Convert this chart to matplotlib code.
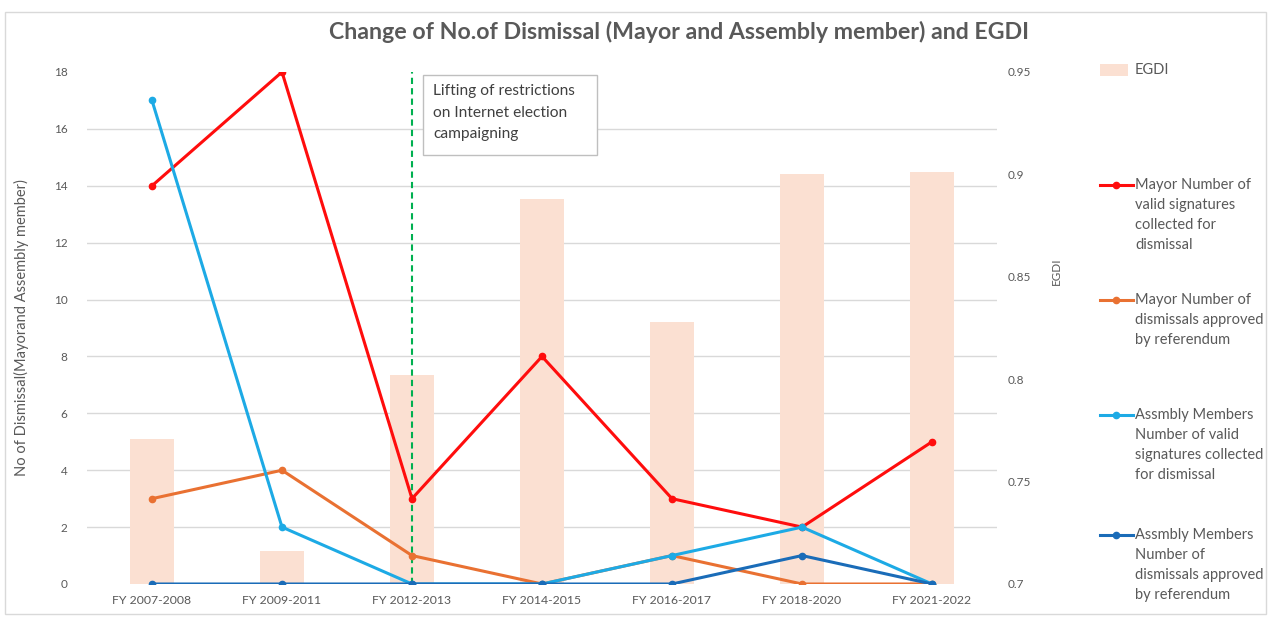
import matplotlib.pyplot as plt
from matplotlib.lines import Line2D
from matplotlib.patches import Rectangle

plt.rcParams['font.family'] = ['Lato', 'DejaVu Sans']

# fiscal-year groups on the x axis
periods = ["FY 2007-2008", "FY 2009-2011", "FY 2012-2013", "FY 2014-2015",
           "FY 2016-2017", "FY 2018-2020", "FY 2021-2022"]

# EGDI score (secondary axis, bars)
egdi = [0.771, 0.716, 0.802, 0.888, 0.828, 0.900, 0.901]

# dismissal counts (primary axis, lines)
mayor_signatures = [14, 18, 3, 8, 3, 2, 5]
mayor_approved = [3, 4, 1, 0, 1, 0, 0]
assembly_signatures = [17, 2, 0, 0, 1, 2, 0]
assembly_approved = [0, 0, 0, 0, 0, 1, 0]

labels = ["Mayor Number of\nvalid signatures\ncollected for\ndismissal",
          "Mayor Number of\ndismissals approved\nby referendum",
          "Assmbly Members\nNumber of valid\nsignatures collected\nfor dismissal",
          "Assmbly Members\nNumber of\ndismissals approved\nby referendum"]
colors = ["#FF0D0D", "#E97132", "#1DAAE5", "#1A6CB8"]
bar_color = "#FBE0D2"
txt = "#595959"

W, H = 1271, 623
fig = plt.figure(figsize=(W / 100, H / 100), dpi=100)

def fx(px):
    return px / W

def fy(py):
    return 1 - py / H

# chart frame
fig.patches.append(Rectangle((fx(5), fy(614)), fx(1261), (614 - 12) / H,
                             transform=fig.transFigure, fill=False,
                             edgecolor="#D9D9D9", linewidth=1))

pos = [fx(87), fy(584), fx(997 - 87), (584 - 72) / H]
ax2 = fig.add_axes(pos)  # bars, EGDI scale
ax = fig.add_axes(pos, sharex=ax2)  # lines, counts
ax.set_zorder(ax2.get_zorder() + 1)
ax.patch.set_visible(False)

x = list(range(len(periods)))
ymax = 18
e_lo, e_hi = 0.7, 0.95

# EGDI bars
ax2.bar(x, [v - e_lo for v in egdi], bottom=e_lo, width=0.34, color=bar_color, zorder=2)
ax2.set_ylim(e_lo, e_hi)
ax2.set_xlim(-0.5, len(periods) - 0.5)
ax2.yaxis.tick_right()
ax2.yaxis.set_label_position("right")
ax2.set_yticks([0.7, 0.75, 0.8, 0.85, 0.9, 0.95])
ax2.set_yticklabels(["0.7", "0.75", "0.8", "0.85", "0.9", "0.95"])
# gridlines follow the count axis steps
grid_pos = [e_lo + v * (e_hi - e_lo) / ymax for v in range(0, ymax + 1, 2)]
ax2.set_yticks(grid_pos, minor=True)
ax2.grid(which="minor", axis="y", color="#D9D9D9", linewidth=1)
ax2.set_axisbelow(True)
ax2.tick_params(which="minor", length=0)
ax2.tick_params(axis="y", which="major", length=0, labelsize=8.5, labelcolor=txt, pad=8)
ax2.set_ylabel("EGDI", fontsize=8.5, color=txt, labelpad=14)
ax2.yaxis.label.set_position((1, 0.61))
for s in ax2.spines.values():
    s.set_visible(False)

# count lines
series = [mayor_signatures, mayor_approved, assembly_signatures, assembly_approved]
draw_order = [3, 1, 2, 0]
for i in draw_order:
    ax.plot(x, series[i], color=colors[i], linewidth=2.2, marker="o", markersize=4.5, zorder=3 + i)

ax.set_ylim(0, ymax)
ax.set_yticks(range(0, ymax + 1, 2))
ax.tick_params(axis="y", length=0, labelsize=8.5, labelcolor=txt, pad=14)
ax.set_xticks(x)
ax.set_xticklabels(periods)
ax.tick_params(axis="x", length=0, labelsize=8.8, labelcolor=txt, pad=8)
ax.set_ylabel("No of Dismissal(Mayorand Assembly member)", fontsize=10.5, color=txt, labelpad=18)
for s in ax.spines.values():
    s.set_visible(False)
ax2.tick_params(axis="x", labelbottom=False, length=0)

# internet campaigning restriction lifted
ax.axvline(2, color="#00B050", linestyle=(0, (3, 2)), linewidth=1.5, zorder=2)
fig.patches.append(Rectangle((fx(423), fy(155)), fx(597 - 423), (155 - 75) / H,
                             transform=fig.transFigure, facecolor="white",
                             edgecolor="#BFBFBF", linewidth=1, zorder=5))
fig.text(fx(433), fy(84), "Lifting of restrictions\non Internet election\ncampaigning",
         fontsize=11.2, color="#404040", va="top", ha="left", linespacing=1.7, zorder=6)

# title
fig.text(fx(679), fy(32), "Change of No.of Dismissal (Mayor and Assembly member) and EGDI",
         fontsize=16.7, fontweight="bold", color=txt, ha="center", va="center")

# legend on the right
fig.patches.append(Rectangle((fx(1100), fy(76)), fx(28), 12 / H, transform=fig.transFigure,
                             facecolor=bar_color, edgecolor="none"))
fig.text(fx(1135), fy(70), "EGDI", fontsize=10.5, color=txt, va="center", ha="left")
leg_y = [185, 300, 415, 535]
for i, ly in enumerate(leg_y):
    fig.lines.append(Line2D([fx(1100), fx(1133)], [fy(ly), fy(ly)], transform=fig.transFigure,
                            color=colors[i], linewidth=2.2))
    fig.lines.append(Line2D([fx(1116)], [fy(ly)], transform=fig.transFigure, color=colors[i],
                            marker="o", markersize=4.5))
    fig.text(fx(1135), fy(ly - 7), labels[i], fontsize=10.5, color=txt, va="top", ha="left",
             linespacing=1.56)

fig.savefig("out.png", dpi=100)
